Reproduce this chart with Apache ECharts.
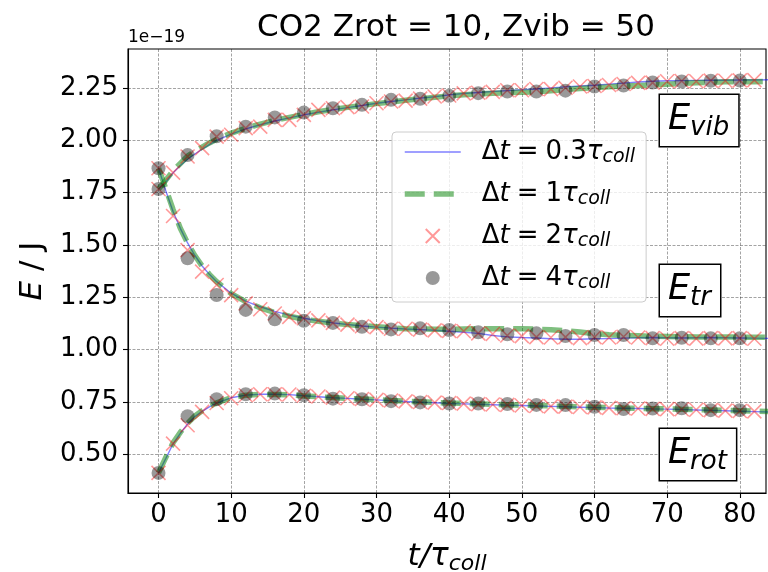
<!DOCTYPE html>
<html><head><meta charset="utf-8">
<script src="https://cdn.jsdelivr.net/npm/echarts@6/dist/echarts.min.js"></script>
<style>html,body{margin:0;padding:0;background:#fff}#c{width:768px;height:572px}</style>
</head><body><div id="c"></div>
<script>
const FONT = 'DejaVu Sans';
const xTicks = [0, 10, 20, 30, 40, 50, 60, 70, 80];
const yTicks = [0.5, 0.75, 1.0, 1.25, 1.5, 1.75, 2.0, 2.25];

// time grids
const tLine = [0,1,2,3,4,5,6,7,8,10,12,14,16,18,20,22,24,26,28,30,32,34,36,38,40,42,44,46,48,50,52,54,56,58,60,62,64,66,68,70,72,74,76,78,80,82,84];
const tCross = [0,2,4,6,8,10,12,14,16,18,20,22,24,26,28,30,32,34,36,38,40,42,44,46,48,50,52,54,56,58,60,62,64,66,68,70,72,74,76,78,80,82,84];
const tDot = [0,4,8,12,16,20,24,28,32,36,40,44,48,52,56,60,64,68,72,76,80];

// dt = 0.3 tau (blue line)
const evib03 = [1.768,1.80,1.845,1.88,1.91,1.935,1.958,1.98,2.0,2.03,2.055,2.075,2.093,2.108,2.122,2.135,2.146,2.157,2.167,2.178,2.186,2.194,2.202,2.209,2.218,2.224,2.229,2.234,2.238,2.242,2.246,2.251,2.256,2.26,2.264,2.269,2.274,2.279,2.283,2.285,2.286,2.287,2.288,2.288,2.289,2.289,2.29];
const etr03 = [1.867,1.76,1.66,1.58,1.51,1.45,1.40,1.36,1.325,1.27,1.232,1.205,1.183,1.165,1.15,1.138,1.128,1.12,1.113,1.108,1.103,1.099,1.096,1.093,1.088,1.083,1.078,1.068,1.061,1.058,1.056,1.052,1.05,1.05,1.052,1.053,1.055,1.057,1.058,1.057,1.056,1.057,1.058,1.057,1.056,1.055,1.054];
const erot03 = [0.411,0.48,0.55,0.60,0.645,0.68,0.705,0.727,0.745,0.77,0.783,0.787,0.787,0.785,0.78,0.775,0.77,0.767,0.763,0.76,0.756,0.752,0.749,0.746,0.743,0.741,0.739,0.737,0.735,0.733,0.731,0.729,0.727,0.725,0.723,0.721,0.72,0.719,0.717,0.716,0.714,0.712,0.71,0.708,0.706,0.704,0.702];

// dt = 1 tau (green dashed)
const evib1 = [1.768,1.81,1.855,1.89,1.925,1.948,1.968,1.988,2.005,2.035,2.058,2.078,2.096,2.11,2.124,2.137,2.148,2.158,2.167,2.176,2.184,2.192,2.199,2.206,2.213,2.218,2.222,2.225,2.228,2.23,2.232,2.238,2.243,2.248,2.252,2.256,2.26,2.262,2.265,2.268,2.272,2.276,2.278,2.28,2.28,2.281,2.282];
const etr1 = [1.867,1.77,1.67,1.58,1.51,1.45,1.40,1.36,1.325,1.268,1.23,1.2,1.178,1.16,1.146,1.136,1.127,1.12,1.115,1.11,1.105,1.1,1.099,1.098,1.097,1.099,1.1,1.1,1.1,1.1,1.098,1.095,1.09,1.084,1.077,1.071,1.068,1.066,1.064,1.063,1.062,1.061,1.06,1.06,1.06,1.059,1.059];
const erot1 = [0.411,0.485,0.555,0.605,0.648,0.683,0.708,0.728,0.746,0.77,0.782,0.786,0.786,0.784,0.779,0.775,0.771,0.767,0.764,0.761,0.757,0.754,0.751,0.748,0.745,0.743,0.741,0.739,0.737,0.735,0.733,0.731,0.729,0.727,0.725,0.723,0.721,0.72,0.718,0.717,0.715,0.714,0.712,0.71,0.708,0.706,0.704];

// dt = 2 tau (red crosses)
const evib2 = [1.768,1.846,1.923,1.963,2.018,2.027,2.059,2.066,2.098,2.098,2.122,2.146,2.154,2.159,2.162,2.178,2.186,2.19,2.2,2.21,2.215,2.225,2.228,2.232,2.24,2.24,2.246,2.245,2.252,2.258,2.26,2.265,2.27,2.275,2.276,2.283,2.284,2.283,2.286,2.285,2.287,2.288,2.288];
const etr2 = [1.867,1.639,1.476,1.373,1.309,1.261,1.221,1.193,1.173,1.157,1.15,1.14,1.128,1.12,1.112,1.108,1.1,1.1,1.096,1.092,1.09,1.088,1.078,1.075,1.068,1.065,1.06,1.058,1.06,1.055,1.06,1.058,1.062,1.058,1.055,1.052,1.055,1.053,1.055,1.054,1.055,1.052,1.05];
const erot2 = [0.411,0.551,0.639,0.703,0.745,0.768,0.782,0.787,0.787,0.786,0.78,0.776,0.771,0.768,0.764,0.76,0.757,0.753,0.75,0.747,0.745,0.742,0.74,0.738,0.736,0.733,0.731,0.729,0.728,0.726,0.724,0.722,0.72,0.719,0.717,0.716,0.715,0.713,0.711,0.709,0.707,0.705,0.703];

// dt = 4 tau (grey dots)
const evib4 = [1.768,1.93,2.02,2.066,2.11,2.133,2.154,2.17,2.194,2.199,2.213,2.226,2.234,2.234,2.238,2.258,2.262,2.277,2.282,2.285,2.286];
const etr4 = [1.867,1.437,1.261,1.19,1.145,1.138,1.128,1.109,1.097,1.102,1.094,1.083,1.074,1.078,1.065,1.07,1.07,1.054,1.057,1.054,1.054];
const erot4 = [0.411,0.682,0.763,0.787,0.79,0.782,0.766,0.763,0.754,0.748,0.743,0.743,0.74,0.736,0.735,0.727,0.716,0.719,0.72,0.711,0.711];

const legendNames = ['dt03', 'dt1', 'dt2', 'dt4'];
const legendValues = {dt03: '0.3', dt1: '1', dt2: '2', dt4: '4'};

const pairs = (ts, vs) => ts.map((t, i) => [t, vs[i]]);

const BLUE = 'rgba(0,0,255,0.5)';
const GREEN = 'rgba(0,128,0,0.5)';
const RED = 'rgba(255,0,0,0.5)';
const GREY = 'rgba(0,0,0,0.5)';
const blueLine = {color: BLUE, width: 1.4, type: 'solid'};
const greenLine = {color: GREEN, width: 5.5, type: [20, 9]};

const blueStyle = n => ({
  name: 'dt03', type: 'line', data: n, showSymbol: false, symbol: 'none',
  itemStyle: {color: BLUE, opacity: 0},
  lineStyle: blueLine, z: 2, animation: false
});
const greenStyle = n => ({
  name: 'dt1', type: 'line', data: n, showSymbol: false, symbol: 'none',
  itemStyle: {color: GREEN, opacity: 0},
  lineStyle: greenLine, z: 3, animation: false
});
const crossPath = 'path://M0,0L10,10M10,0L0,10';
const crossStyle = n => ({
  name: 'dt2', type: 'scatter', data: n, symbol: crossPath, symbolSize: 14, symbolKeepAspect: true,
  itemStyle: {color: 'rgba(0,0,0,0)', borderColor: RED, borderWidth: 1.6}, z: 4, animation: false
});
const dotStyle = n => ({
  name: 'dt4', type: 'scatter', data: n, symbol: 'circle', symbolSize: 14,
  itemStyle: {color: GREY}, z: 5, animation: false
});

const chart = echarts.init(document.getElementById('c'), null, {renderer: 'canvas'});

const gridLine = {show: true, lineStyle: {color: 'rgba(0,0,0,0.45)', width: 0.8, type: [3, 1.5]}};

const option = {
  backgroundColor: '#ffffff',
  animation: false,
  textStyle: {fontFamily: FONT},
  grid: {left: 128, right: 2, top: 49, bottom: 79, show: true, borderColor: '#000', borderWidth: 1.1,
         backgroundColor: 'transparent', containLabel: false, outerBoundsMode: 'none'},
  xAxis: {
    type: 'value', min: -4.2, max: 83.6,
    axisLine: {show: true, onZero: false, lineStyle: {color: '#000', width: 1.1}},
    axisTick: {show: true, inside: false, length: 5, lineStyle: {color: '#000', width: 1.1}, customValues: xTicks},
    axisLabel: {show: true, customValues: xTicks, color: '#000', fontSize: 26, fontFamily: FONT, margin: 9, formatter: v => String(v)},
    splitLine: gridLine,
    name: '{i|t/τ}{s|coll}', nameLocation: 'middle', nameGap: 46,
    nameTextStyle: {rich: {
      i: {fontSize: 31, fontStyle: 'italic', fontFamily: FONT, color: '#000', lineHeight: 36},
      s: {fontSize: 22, fontStyle: 'italic', fontFamily: FONT, color: '#000', lineHeight: 22, verticalAlign: 'bottom'}
    }}
  },
  yAxis: {
    type: 'value', min: 0.315, max: 2.437,
    axisLine: {show: true, onZero: false, lineStyle: {color: '#000', width: 1.1}},
    axisTick: {show: true, inside: false, length: 5, lineStyle: {color: '#000', width: 1.1}, customValues: yTicks},
    axisLabel: {show: true, customValues: yTicks, color: '#000', fontSize: 26, fontFamily: FONT, margin: 10, formatter: v => v.toFixed(2)},
    splitLine: gridLine,
    name: '{i|E}{n| / J}', nameLocation: 'middle', nameGap: 80,
    nameTextStyle: {rich: {
      i: {fontSize: 31, fontStyle: 'italic', fontFamily: FONT, color: '#000'},
      n: {fontSize: 31, fontFamily: FONT, color: '#000'}
    }}
  },
  legend: {
    show: true, orient: 'vertical', left: 392, top: 132,
    padding: [7, 11, 9, 10],
    itemWidth: 56, itemHeight: 14, itemGap: 14,
    backgroundColor: 'rgba(255,255,255,0.8)', borderColor: '#cccccc', borderWidth: 1, borderRadius: 4,
    data: [
      {name: 'dt03', itemStyle: {opacity: 0}, lineStyle: blueLine},
      {name: 'dt1', itemStyle: {opacity: 0}, lineStyle: greenLine},
      {name: 'dt2'},
      {name: 'dt4'}
    ],
    formatter: name => '{g|}{m|Δ}{i|t}{p| }{m|=}{p| }{m|' + legendValues[name] + '}{i|τ}{s|coll}',
    textStyle: {rich: {
      g: {width: 16},
      p: {fontSize: 22, fontFamily: FONT, lineHeight: 30},
      m: {fontSize: 26, fontFamily: FONT, color: '#000', lineHeight: 30},
      i: {fontSize: 26, fontStyle: 'italic', fontFamily: FONT, color: '#000', lineHeight: 30},
      s: {fontSize: 19, fontStyle: 'italic', fontFamily: FONT, color: '#000', lineHeight: 19, verticalAlign: 'bottom'}
    }}
  },
  series: [
    blueStyle(pairs(tLine, evib03)), blueStyle(pairs(tLine, etr03)), blueStyle(pairs(tLine, erot03)),
    greenStyle(pairs(tLine, evib1)), greenStyle(pairs(tLine, etr1)), greenStyle(pairs(tLine, erot1)),
    crossStyle(pairs(tCross, evib2)), crossStyle(pairs(tCross, etr2)), crossStyle(pairs(tCross, erot2)),
    dotStyle(pairs(tDot, evib4)), dotStyle(pairs(tDot, etr4)), dotStyle(pairs(tDot, erot4))
  ],
  graphic: [
    {type: 'text', x: 456, y: 28, z: 100, style: {text: 'CO2 Zrot = 10, Zvib = 50', fontSize: 31, fontFamily: FONT, fill: '#000', align: 'center', verticalAlign: 'middle'}},
    {type: 'text', x: 128, y: 38, z: 100, style: {text: '1e−19', fontSize: 17, fontFamily: FONT, fill: '#000', align: 'left', verticalAlign: 'middle'}}
  ]
};

const boxes = [
  {sub: 'vib', x: 660, y: 95},
  {sub: 'tr', x: 660, y: 265},
  {sub: 'rot', x: 660, y: 429}
];
boxes.forEach(b => {
  option.graphic.push({
    type: 'text', x: b.x, y: b.y, z: 100,
    style: {
      text: '{e|E}{s|' + b.sub + '}',
      backgroundColor: '#fff', borderColor: '#000', borderWidth: 1.5,
      padding: [4, 9, 5, 8],
      rich: {
        e: {fontSize: 35, fontStyle: 'italic', fontFamily: FONT, fill: '#000', lineHeight: 42},
        s: {fontSize: 26, fontStyle: 'italic', fontFamily: FONT, fill: '#000', lineHeight: 26, verticalAlign: 'bottom'}
      }
    }
  });
});

chart.setOption(option);
</script></body></html>
